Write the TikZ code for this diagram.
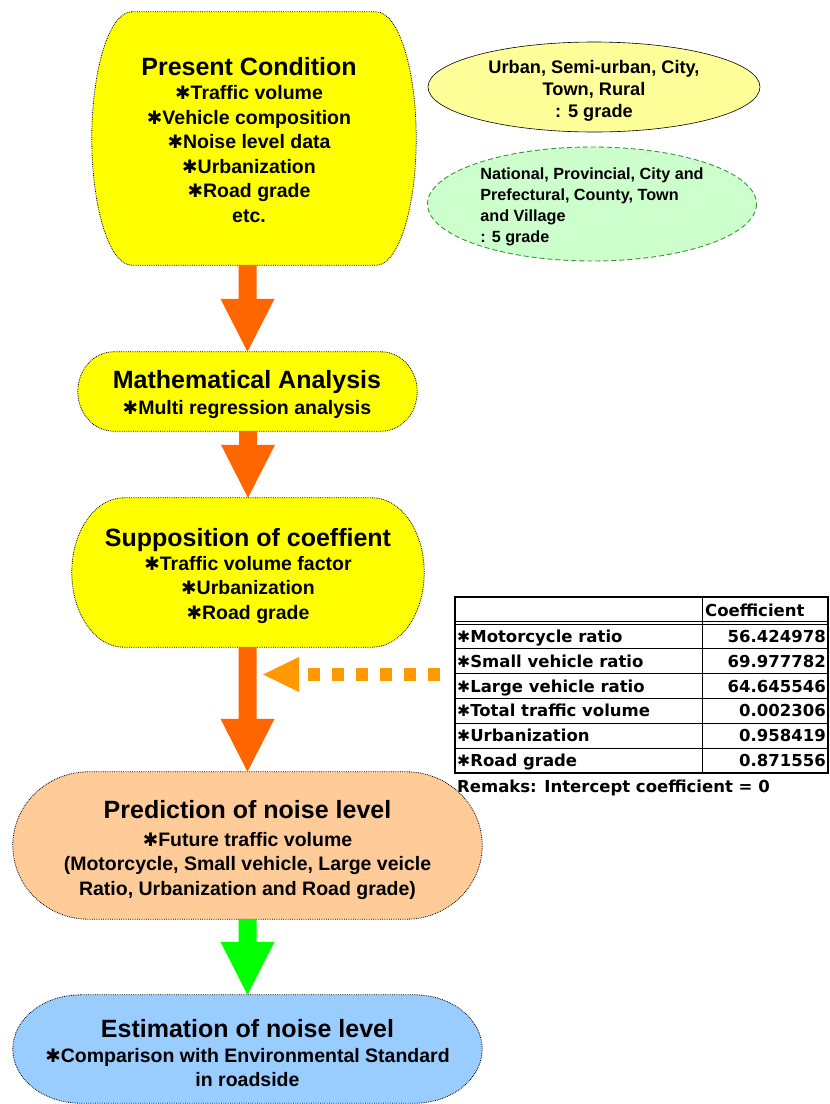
\documentclass[tikz,border=0pt]{standalone}
\usepackage{graphicx}
\usepackage{fontspec}
\setmainfont{Liberation Sans}
\newfontfamily\tabfont{DejaVu Sans}
\newfontfamily\symfont{DejaVu Sans}
\usetikzlibrary{backgrounds,calc}

\definecolor{boxyellow}{HTML}{FFFF00}
\definecolor{boxpeach}{HTML}{FFCC99}
\definecolor{boxblue}{HTML}{99CCFF}
\definecolor{noteyellow}{HTML}{FFFF99}
\definecolor{notegreen}{HTML}{CCFFCC}
\definecolor{noteedge}{HTML}{339933}
\definecolor{flowarrow}{HTML}{FF6600}
\definecolor{lastarrow}{HTML}{00FF00}
\definecolor{hintarrow}{HTML}{FF9900}

% heavy asterisk used as list marker
\newcommand\astk{{\symfont\mdseries\scalebox{0.95}{✱}}}
\newcommand\bodyfont{\bfseries\fontsize{19.5}{24.5}\selectfont}
\newcommand\headfont{\bfseries\fontsize{25}{28}\selectfont}
\newcommand\notefont{\bfseries\fontsize{18.2}{22}\selectfont}
\newcommand\notesmall{\bfseries\fontsize{16.2}{21}\selectfont}
\newcommand\cellfont{\tabfont\bfseries\fontsize{16.5}{20}\selectfont}

% flat top and bottom, elliptic ends of the given depth, filling the node's box
\newcommand\capsule[3]{%
  \path[capedge, fill=#3] let \p1=(#1.north west), \p2=(#1.south east),
      \n1={#2*1pt}, \n2={(\y1-\y2)/2}, \n3={(\y1+\y2)/2} in
    (\x1+\n1,\y1) -- (\x2-\n1,\y1)
    .. controls (\x2-0.448*\n1,\y1) and (\x2,\n3+0.552*\n2) .. (\x2,\n3)
    .. controls (\x2,\n3-0.552*\n2) and (\x2-0.448*\n1,\y2) .. (\x2-\n1,\y2)
    -- (\x1+\n1,\y2)
    .. controls (\x1+0.448*\n1,\y2) and (\x1,\n3-0.552*\n2) .. (\x1,\n3)
    .. controls (\x1,\n3+0.552*\n2) and (\x1+0.448*\n1,\y1) .. cycle;
}

% wide block arrow from the bottom of one stage to the top of the next
\newcommand\blockarrow[3]{%
  \fill[#1] let \p1=(#2.south), \p2=(#3.north) in
    (\x2-9pt,\y1) -- (\x2+9pt,\y1) -- (\x2+9pt,\y2+53pt) -- (\x2+27pt,\y2+53pt)
    -- (\x2,\y2) -- (\x2-27pt,\y2+53pt) -- (\x2-9pt,\y2+53pt) -- cycle;
}

\begin{document}
\begin{tikzpicture}[x=1pt,y=-1pt,
  stagebox/.style={inner sep=0pt},
  stage/.style={align=center, inner sep=0pt, font=\bodyfont},
  capedge/.style={draw=black, densely dotted, line width=0.8pt},
  note/.style={inner sep=0pt},
  cell/.style={inner sep=0pt, font=\cellfont},
  gridline/.style={line width=0.9pt},
]
\useasboundingbox (0,0) rectangle (830,1104);

% ---- flow stages: outline boxes and their texts
\node[stagebox, minimum width=324pt, minimum height=253pt] (present) at (254,138.5) {};
\node[stage] (present-text) at (249,140)
  {{\headfont Present Condition}\\[0pt]
   \astk Traffic volume\\ \astk Vehicle composition\\ \astk Noise level data\\
   \astk Urbanization\\ \astk Road grade\\ etc.};

\node[stagebox, minimum width=339pt, minimum height=79pt] (analysis) at (247.5,391.5) {};
\node[stage] (analysis-text) at (247,394.5)
  {{\headfont Mathematical Analysis}\\[1pt] \astk Multi regression analysis};

\node[stagebox, minimum width=352pt, minimum height=149pt] (suppose) at (248,572.5) {};
\node[stage] (suppose-text) at (248,575.5)
  {{\headfont Supposition of coeffient}\\[-0.5pt]
   \astk Traffic volume factor\\ \astk Urbanization\\ \astk Road grade};

\node[stagebox, minimum width=469pt, minimum height=147pt] (predict) at (247.5,845.5) {};
\node[stage] (predict-text) at (247.5,850)
  {{\headfont Prediction of noise level}\\[3pt] \astk Future traffic volume\\
   (Motorcycle, Small vehicle, Large veicle\\ Ratio, Urbanization and Road grade)};

\node[stagebox, minimum width=469pt, minimum height=108pt] (estimate) at (247.5,1049) {};
\node[stage] (estimate-text) at (247.5,1053)
  {{\headfont Estimation of noise level}\\[0.5pt]
   \astk Comparison with Environmental Standard\\ in roadside};

% ---- side notes
\node[note, align=center, font=\notefont] (areas) at (594,91)
  {Urban, Semi-urban, City,\\ Town, Rural\\ : 5 grade};
\node[note, align=left, font=\notesmall] (roads) at (592,206.5)
  {National, Provincial, City and\\ Prefectural, County, Town\\ and Village\\ : 5 grade};

% ---- coefficient table
\node[draw, line width=2.2pt, minimum width=373pt, minimum height=176pt, inner sep=0pt]
  (coef) at (641.5,685) {};
\draw[gridline] (455,621.7) -- (828,621.7);
\draw[gridline] (455,624.3) -- (828,624.3);
\foreach \k in {1,...,5}
  \draw[gridline] (455,{624+24.8*\k}) -- (828,{624+24.8*\k});
\draw[gridline] (702,597) -- (702,773);
\node[cell, anchor=base west] (head) at (705,616) {Coefficient};
\foreach \lab/\val [count=\i] in {Motorcycle ratio/56.424978,
    Small vehicle ratio/69.977782, Large vehicle ratio/64.645546,
    Total traffic volume/0.002306, Urbanization/0.958419, Road grade/0.871556} {
  \node[cell, anchor=base west] (lab\i) at (457,{624+24.8*(\i-0.5)+6}) {\astk\lab};
  \node[cell, anchor=base east] (val\i) at (826,{624+24.8*(\i-0.5)+6}) {\val};
}
\node[cell, anchor=base west] (remark) at (457,792) {Remaks: Intercept coefficient = 0};

% ---- connectors
\blockarrow{flowarrow}{present}{analysis}
\blockarrow{flowarrow}{analysis}{suppose}
\blockarrow{flowarrow}{suppose}{predict}
\blockarrow{lastarrow}{predict}{estimate}

\coordinate (hintsrc) at ([shift={(-14pt,10.5pt)}]coef.west);
\coordinate (hinttip) at (263,674.5);
\draw[hintarrow, line width=13pt, dash pattern=on 12pt off 12pt]
  (hintsrc) -- ([xshift=36pt]hinttip);
\fill[hintarrow] (hinttip) -- ([shift={(36pt,17.5pt)}]hinttip)
  -- ([shift={(36pt,-17.5pt)}]hinttip) -- cycle;

% ---- shapes behind the texts
\begin{pgfonlayer}{background}
  \fill[white] (0,0) rectangle (830,1104);
  \draw[fill=noteyellow, draw=black, line width=0.6pt]
    ([yshift=4pt]areas.center) ellipse [x radius=166, y radius=45];
  \draw[fill=notegreen, draw=noteedge, line width=0.9pt, dash pattern=on 5pt off 3pt]
    ([yshift=2.5pt]roads.center) ellipse [x radius=164.5, y radius=57];
  \capsule{present}{40}{boxyellow}
  \capsule{analysis}{36}{boxyellow}
  \capsule{suppose}{52}{boxyellow}
  \capsule{predict}{76}{boxpeach}
  \capsule{estimate}{68}{boxblue}
\end{pgfonlayer}
\end{tikzpicture}
\end{document}
